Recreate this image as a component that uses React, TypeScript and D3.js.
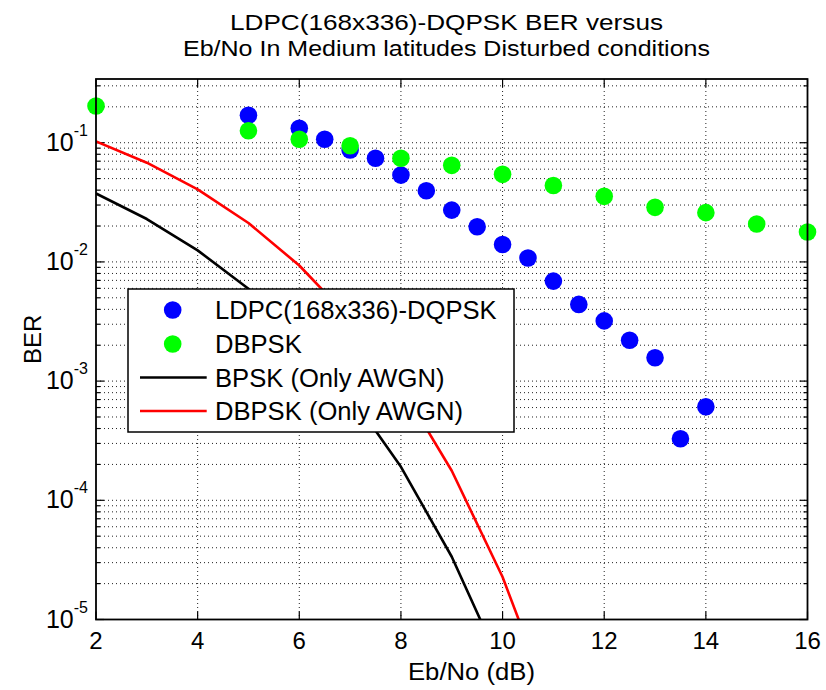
import React from "react";
import * as d3 from "d3";

const W = 826;
const H = 690;

// LDPC(168x336)-DQPSK (blue markers)
const ldpcX = [5, 6, 6.5, 7, 7.5, 8, 8.5, 9, 9.5, 10, 10.5, 11, 11.5, 12, 12.5, 13, 13.5, 14];
const ldpcY = [0.17, 0.132, 0.107, 0.0869, 0.074, 0.0535, 0.0395, 0.0272, 0.0197, 0.014, 0.0108, 0.0069, 0.0044, 0.0032, 0.0022, 0.00157, 0.000328, 0.00061];

// DBPSK (green markers)
const dbpskX = [2, 5, 6, 7, 8, 9, 10, 11, 12, 13, 14, 15, 16];
const dbpskY = [0.203, 0.126, 0.107, 0.0944, 0.074, 0.0646, 0.0543, 0.0438, 0.0355, 0.0287, 0.0259, 0.0208, 0.0178];

// BPSK (Only AWGN) black line
const bpskAwgnX = [2, 3, 4, 5, 6, 7, 8, 9, 10];
const bpskAwgnY = [0.0375, 0.0229, 0.0125, 0.00595, 0.00239, 0.000773, 0.000191, 0.0000336, 0.00000387];

// DBPSK (Only AWGN) red line
const dbpskAwgnX = [2, 3, 4, 5, 6, 7, 8, 9, 10, 11];
const dbpskAwgnY = [0.1025, 0.068, 0.0406, 0.0212, 0.00933, 0.00333, 0.000909, 0.000177, 0.0000227, 0.00000171];

const xTicks = [2, 4, 6, 8, 10, 12, 14, 16];
const yDecades = [-5, -4, -3, -2, -1];
const legendLabels = ["LDPC(168x336)-DQPSK", "DBPSK", "BPSK (Only AWGN)", "DBPSK (Only AWGN)"];
const titleLines = ["LDPC(168x336)-DQPSK BER versus", "Eb/No In Medium latitudes Disturbed conditions"];
const xLabel = "Eb/No (dB)";
const yLabel = "BER";

const yMin = 1e-5;
const yMax = 0.3424;

const FONT = "'Liberation Sans', Arial, Helvetica, sans-serif";

export default function App() {
  const L = 96, R = 807.5, T = 79, B = 619.5;
  const x = d3.scaleLinear().domain([2, 16]).range([L, R]);
  const y = d3.scaleLog().domain([yMin, yMax]).range([B, T]);

  const minor: number[] = [];
  for (let e = -5; e <= -1; e++) {
    for (let m = 2; m <= 9; m++) {
      const v = m * Math.pow(10, e);
      if (v <= yMax) minor.push(v);
    }
  }
  const majors = yDecades.map((e) => Math.pow(10, e));

  const line = d3
    .line<[number, number]>()
    .x((d) => x(d[0]))
    .y((d) => y(d[1]));

  const bpskPts = bpskAwgnX.map((v, i) => [v, bpskAwgnY[i]] as [number, number]);
  const dbpskPts = dbpskAwgnX.map((v, i) => [v, dbpskAwgnY[i]] as [number, number]);

  const dot = "1,3";
  const gridColor = "#222";
  const markerR = 8.8;

  const legX = 128, legY = 289, legW = 386, legH = 143;
  const rowY = [310, 344, 377.5, 411];

  return (
    <div style={{ position: "absolute", left: 0, top: 0 }}>
      <svg width={W} height={H} style={{ display: "block", background: "#fff" }} fontFamily={FONT}>
        <defs>
          <clipPath id="plotclip">
            <rect x={L} y={T} width={R - L} height={B - T} />
          </clipPath>
        </defs>
        <rect x={0} y={0} width={W} height={H} fill="#fff" />
        {/* grid */}
        <g stroke={gridColor} strokeWidth={1} strokeDasharray={dot} fill="none">
          {xTicks.slice(1, -1).map((t) => (
            <line key={"gx" + t} x1={x(t)} x2={x(t)} y1={T} y2={B} />
          ))}
          {[...majors, ...minor].map((v, i) => (
            <line key={"gy" + i} x1={L} x2={R} y1={y(v)} y2={y(v)} />
          ))}
        </g>
        {/* ticks */}
        <g stroke="#000" strokeWidth={1.2}>
          {xTicks.map((t) => (
            <g key={"tx" + t}>
              <line x1={x(t)} x2={x(t)} y1={B} y2={B - 8} />
              <line x1={x(t)} x2={x(t)} y1={T} y2={T + 8} />
            </g>
          ))}
          {majors.map((v, i) => (
            <g key={"ty" + i}>
              <line x1={L} x2={L + 8} y1={y(v)} y2={y(v)} />
              <line x1={R} x2={R - 8} y1={y(v)} y2={y(v)} />
            </g>
          ))}
          {minor.map((v, i) => (
            <g key={"tym" + i}>
              <line x1={L} x2={L + 4} y1={y(v)} y2={y(v)} />
              <line x1={R} x2={R - 4} y1={y(v)} y2={y(v)} />
            </g>
          ))}
        </g>
        {/* lines */}
        <g clipPath="url(#plotclip)" fill="none" strokeWidth={2.6} strokeLinejoin="round">
          <path d={line(bpskPts) || ""} stroke="#000" />
          <path d={line(dbpskPts) || ""} stroke="#ff0000" />
        </g>
        {/* markers */}
        <g clipPath="url(#plotclip)">
          {ldpcX.map((v, i) => (
            <circle key={"b" + i} cx={x(v)} cy={y(ldpcY[i])} r={markerR} fill="#0000ff" />
          ))}
        </g>
        <g>
          {dbpskX.map((v, i) => (
            <circle key={"g" + i} cx={x(v)} cy={y(dbpskY[i])} r={markerR} fill="#00ff00" />
          ))}
        </g>
        {/* axes box */}
        <rect x={L} y={T} width={R - L} height={B - T} fill="none" stroke="#000" strokeWidth={1.8} />
        {/* x tick labels */}
        {xTicks.map((t) => (
          <text key={"xl" + t} x={x(t)} y={649} fontSize={24} textAnchor="middle" fill="#000">
            {t}
          </text>
        ))}
        {/* y tick labels */}
        {yDecades.map((e) => (
          <text key={"yl" + e} x={L - 8} y={y(Math.pow(10, e)) + 8} fontSize={25} textAnchor="end" fill="#000">
            10
            <tspan fontSize={16} dy={-15}>{String(e)}</tspan>
          </text>
        ))}
        {/* axis labels */}
        <text x={471.5} y={680} fontSize={23.5} textAnchor="middle" textLength={127} lengthAdjust="spacingAndGlyphs" fill="#000">
          {xLabel}
        </text>
        <text transform={`translate(41, ${(T + B) / 2 - 10}) rotate(-90)`} fontSize={24} textAnchor="middle" fill="#000">
          {yLabel}
        </text>
        {/* title */}
        <text x={446.5} y={29.5} fontSize={22.5} textAnchor="middle" textLength={433} lengthAdjust="spacingAndGlyphs" fill="#000">
          {titleLines[0]}
        </text>
        <text x={446.5} y={56} fontSize={22.5} textAnchor="middle" textLength={527} lengthAdjust="spacingAndGlyphs" fill="#000">
          {titleLines[1]}
        </text>
        {/* legend */}
        <rect x={legX} y={legY} width={legW} height={legH} fill="#fff" stroke="#000" strokeWidth={1.5} />
        <circle cx={172.7} cy={rowY[0]} r={markerR} fill="#0000ff" />
        <circle cx={172.7} cy={rowY[1]} r={markerR} fill="#00ff00" />
        <line x1={140} x2={206.7} y1={rowY[2]} y2={rowY[2]} stroke="#000" strokeWidth={2.6} />
        <line x1={140} x2={206.7} y1={rowY[3]} y2={rowY[3]} stroke="#ff0000" strokeWidth={2.6} />
        {legendLabels.map((s, i) => (
          <text key={"lg" + i} x={215} y={rowY[i] + 9} fontSize={25.6} fill="#000">
            {s}
          </text>
        ))}
      </svg>
    </div>
  );
}
